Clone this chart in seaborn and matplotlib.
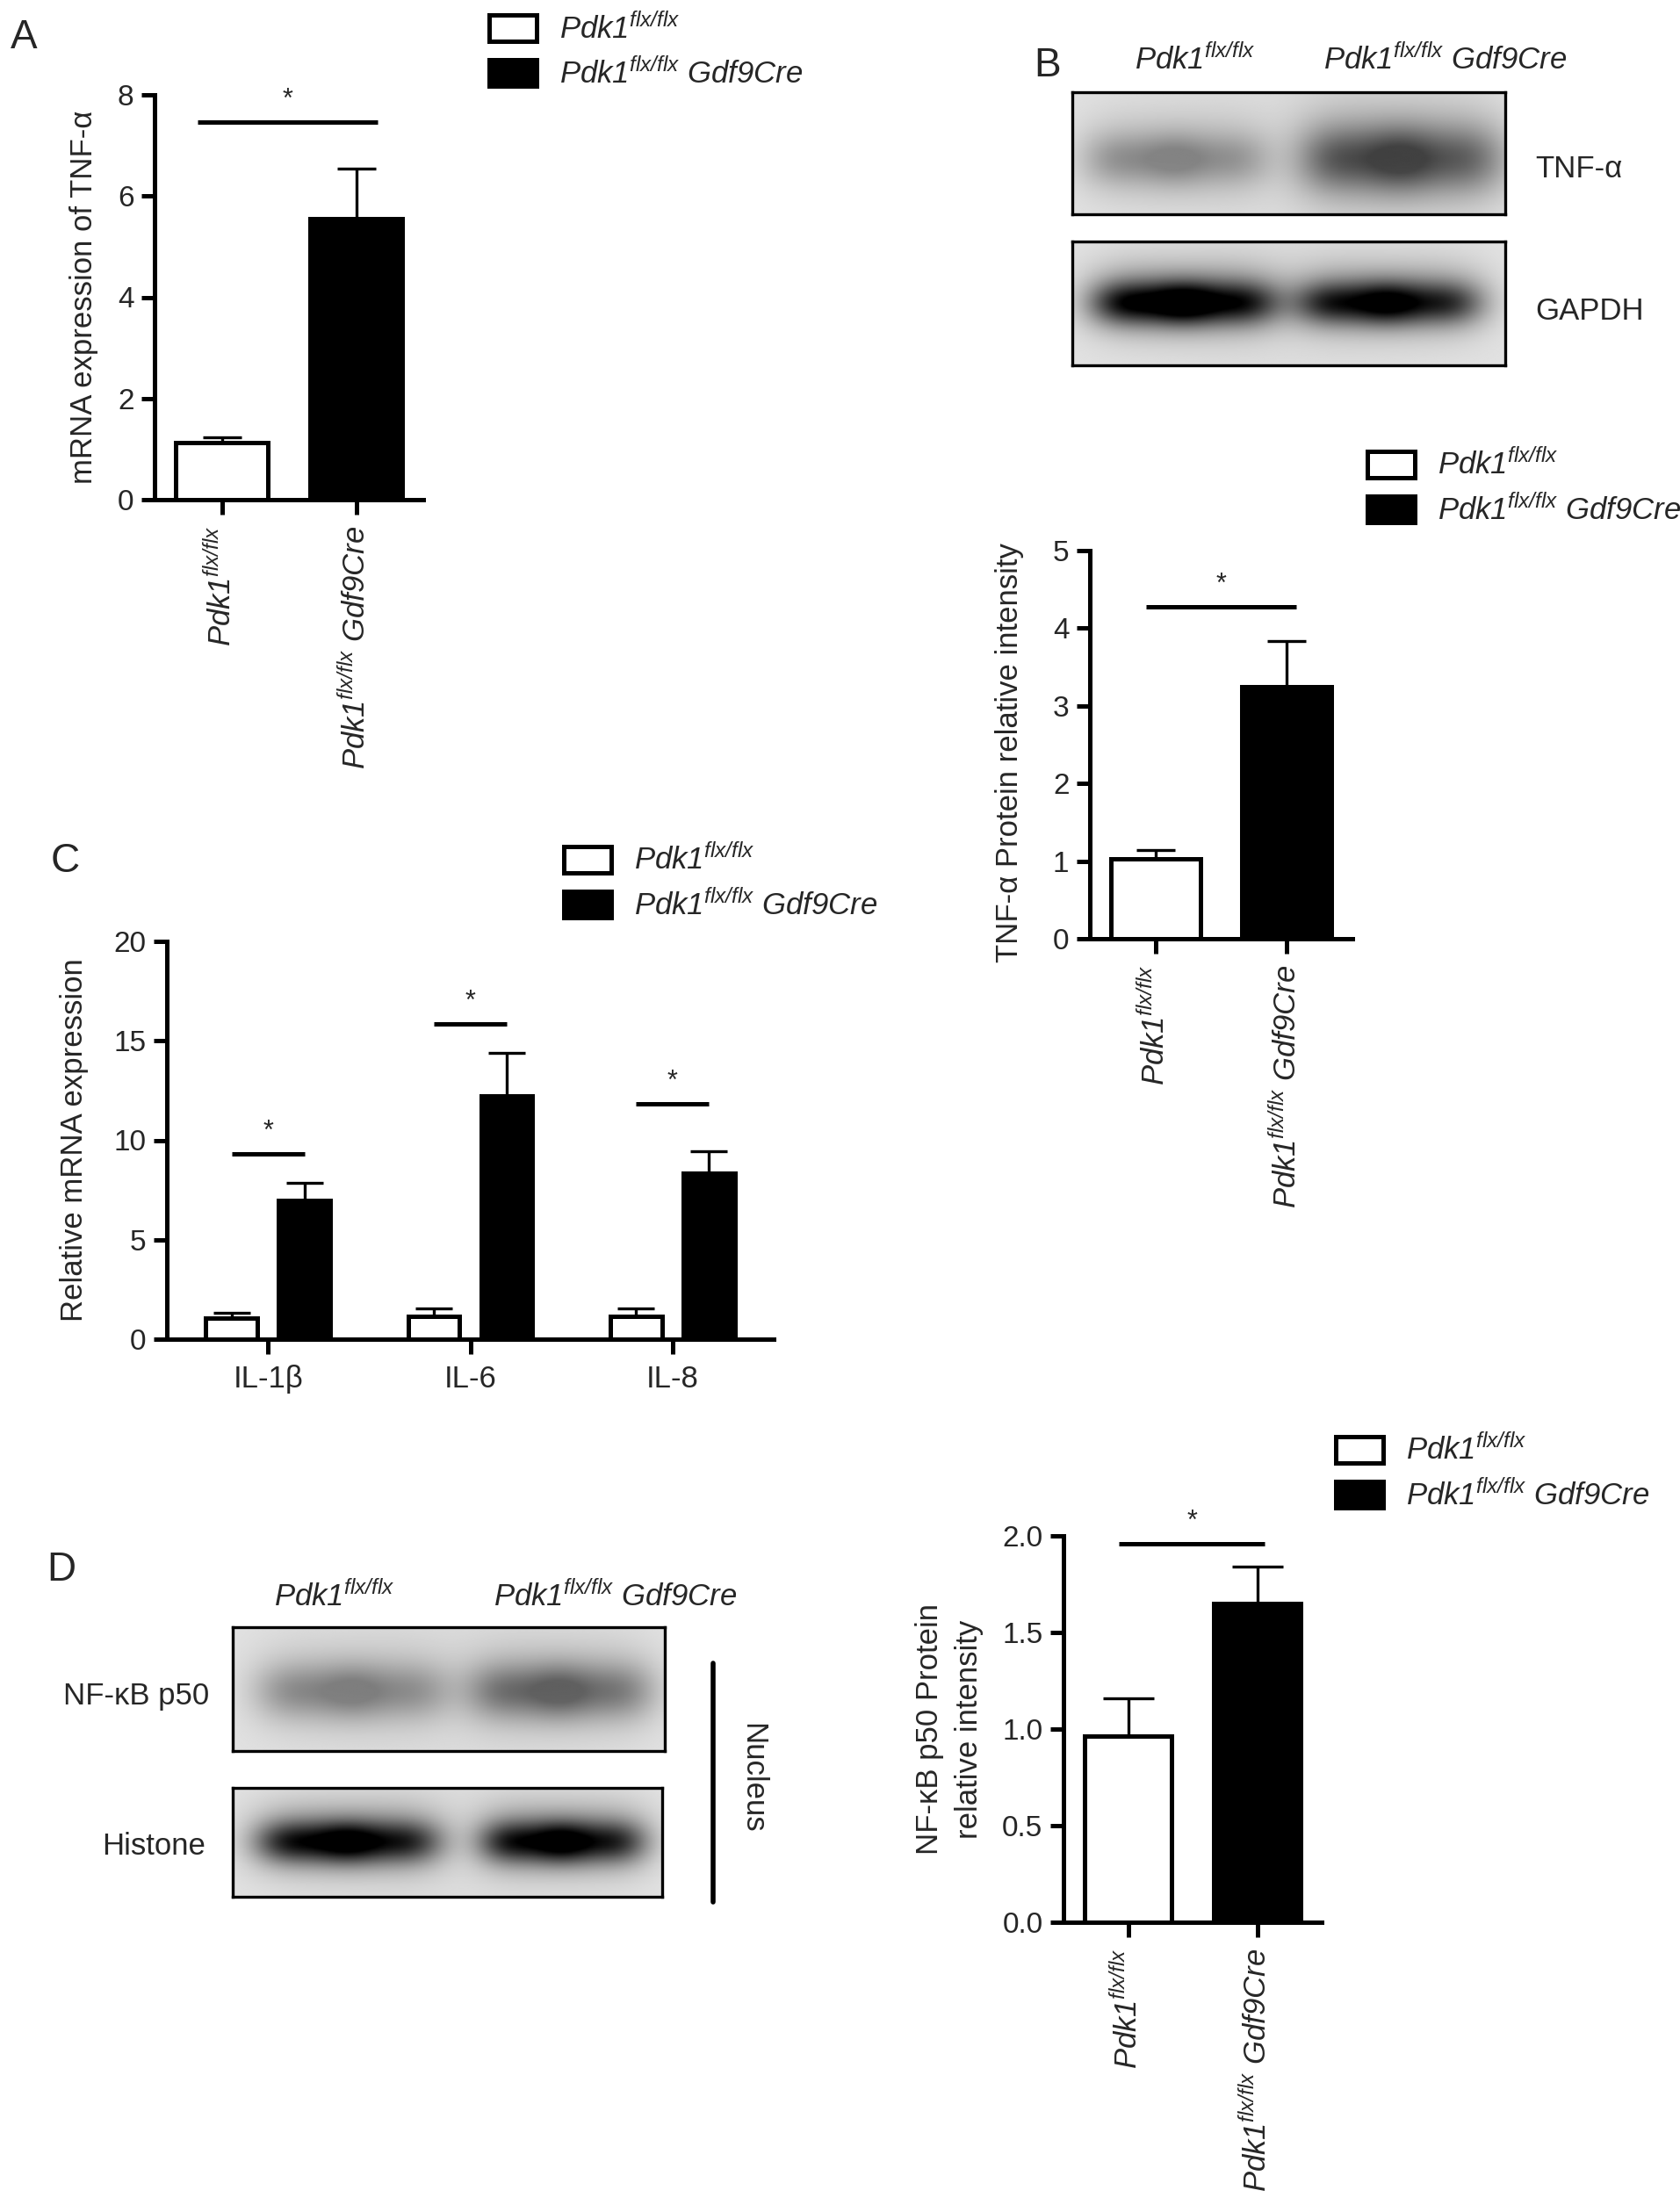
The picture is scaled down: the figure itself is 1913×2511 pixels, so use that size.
import numpy as np
import pandas as pd
import matplotlib
matplotlib.use("Agg")
import matplotlib.pyplot as plt
from matplotlib.patches import Patch
import seaborn as sns

W, H, DPI = 1913, 2511, 100

# ---------------- data ----------------
genotypes = ["ctrl", "ko"]
a_mean = [1.12, 5.56]
a_sem = [0.11, 0.98]
a_sig = 7.46

b_mean = [1.03, 3.25]
b_sem = [0.11, 0.58]
b_sig = 4.28

c_genes = ["IL-1β", "IL-6", "IL-8"]
c_ctrl = [1.07, 1.13, 1.13]
c_ctrl_sem = [0.26, 0.43, 0.43]
c_ko = [6.97, 12.25, 8.35]
c_ko_sem = [0.89, 2.15, 1.11]
c_sig = [9.31, 15.86, 11.84]

d_mean = [0.965, 1.65]
d_sem = [0.195, 0.19]
d_sig = 1.96

a_yticks = [0, 2, 4, 6, 8]
b_yticks = [0, 1, 2, 3, 4, 5]
c_yticks = [0, 5, 10, 15, 20]
d_yticks = [0.0, 0.5, 1.0, 1.5, 2.0]

# western blot band darkness per lane (0 = none, 1 = black)
blot_b_tnf = [0.36, 0.62]
blot_b_gapdh = [1.05, 0.92]
blot_d_p50 = [0.38, 0.50]
blot_d_histone = [0.95, 0.95]

LAB_CTRL = r"$\mathit{Pdk1}^{\mathit{flx/flx}}$"
LAB_KO = r"$\mathit{Pdk1}^{\mathit{flx/flx}}\ \mathit{Gdf9Cre}$"

# ---------------- style ----------------
sns.set_theme(style="ticks")
TXT = "#262626"
plt.rcParams.update({
    "font.family": ["Liberation Sans", "DejaVu Sans"],
    "mathtext.fontset": "custom",
    "mathtext.rm": "Liberation Sans:italic",
    "mathtext.it": "Liberation Sans:italic",
    "mathtext.bf": "Liberation Sans:bold",
    "mathtext.sf": "Liberation Sans:italic",
    "text.color": TXT,
    "axes.labelcolor": TXT,
})
FS = 25
LW = 3.6
ELW = 2.4
PAL = {"ctrl": "white", "ko": "black"}

fig = plt.figure(figsize=(W / DPI, H / DPI), dpi=DPI, facecolor="white")


def px_axes(x0, y0, x1, y1):
    return fig.add_axes([x0 / W, 1 - y1 / H, (x1 - x0) / W, (y1 - y0) / H])


def style_axes(ax, yticks, ylim, xlim):
    ax.set_ylim(*ylim)
    ax.set_xlim(*xlim)
    ax.set_yticks(yticks)
    for s in ["top", "right"]:
        ax.spines[s].set_visible(False)
    for s in ["left", "bottom"]:
        ax.spines[s].set_linewidth(LW)
        ax.spines[s].set_color("black")
    ax.tick_params(axis="y", length=11, width=LW, pad=6, labelsize=24,
                   colors="black", labelcolor=TXT)
    ax.tick_params(axis="x", length=12, width=LW, pad=9, labelsize=FS,
                   colors="black", labelcolor=TXT)
    ax.set_xlabel("")


def sig_bar(ax, x0, x1, y, star_off):
    ax.plot([x0, x1], [y, y], color="black", lw=LW, solid_capstyle="butt")
    ax.annotate("*", xy=((x0 + x1) / 2, y), xytext=(0, star_off),
                textcoords="offset points", ha="center", va="center",
                fontsize=22, color=TXT)


def two_bar(ax, means, sems, sig, sig_x, yticks, ylim, width, cap, ylabel,
            label_x, label_y=0.5, star_off=18):
    df = pd.DataFrame({"genotype": genotypes, "value": means})
    sns.barplot(data=df, x="genotype", y="value", hue="genotype",
                order=genotypes, hue_order=genotypes, palette=PAL,
                width=width, edgecolor="black", linewidth=LW, saturation=1,
                errorbar=None, legend=False, ax=ax)
    ax.errorbar(np.arange(len(means)), means,
                yerr=[np.zeros(len(means)), sems], fmt="none",
                ecolor="black", elinewidth=ELW, capsize=cap, capthick=ELW,
                zorder=1)
    style_axes(ax, yticks, ylim, (-0.5, 1.5))
    ax.set_xticks([0, 1], [LAB_CTRL, LAB_KO], rotation=90)
    sig_bar(ax, sig_x[0], sig_x[1], sig, star_off)
    ax.set_ylabel(ylabel, fontsize=FS, va="center", linespacing=1.45)
    ax.yaxis.set_label_coords(label_x, label_y)


def legend_at(x, y):
    handles = [Patch(facecolor="white", edgecolor="black", lw=LW),
               Patch(facecolor="black", edgecolor="black", lw=LW)]
    fig.legend(handles, [LAB_CTRL, LAB_KO], loc="upper left",
               bbox_to_anchor=(x / W, 1 - y / H), frameon=False, fontsize=FS,
               handlelength=1.55, handleheight=0.95, handletextpad=0.75,
               labelspacing=0.45, borderpad=0, borderaxespad=0)


def blot(ax, dark, lane_x, half_w, half_h, cy=0.53, bg=0.90, lobes=(1.0, 0.9)):
    h, w = 140, 490
    yy = np.linspace(0, 1, h)[:, None]
    xx = np.linspace(0, 1, w)[None, :]
    img = np.full((h, w), bg)
    img = img - 0.03 * np.exp(-((xx - 0.5) / 0.6) ** 2)
    for d, cx, hw, hh in zip(dark, lane_x, half_w, half_h):
        halo = np.exp(-np.abs((xx - cx) / (hw * 1.12)) ** 4) * \
            np.exp(-((yy - cy + 0.04) / (hh * 1.7)) ** 2)
        core = np.zeros_like(img)
        for k, f in zip((-0.45, 0.45), lobes):
            core = core + f * np.exp(-np.abs((xx - cx - k * hw) / (hw * 0.62)) ** 3) * \
                np.exp(-((yy - cy) / hh) ** 2)
        img = img - d * (0.62 * np.clip(core, 0, 1.1) + 0.32 * halo)
    ax.imshow(np.clip(img, 0, 1), cmap="gray", vmin=0, vmax=1,
              aspect="auto", interpolation="bilinear")
    ax.set_xticks([])
    ax.set_yticks([])
    for s in ax.spines.values():
        s.set_linewidth(2.4)
        s.set_color("black")
        s.set_visible(True)


def letter(x, y, s):
    fig.text(x / W, 1 - y / H, s, fontsize=33, ha="left", va="center",
             color=TXT)


# ---------------- Panel A ----------------
letter(12, 43, "A")
axA = px_axes(176, 108, 482, 569)
two_bar(axA, a_mean, a_sem, a_sig, (-0.18, 1.16), a_yticks, (0, 8), 0.69,
        16, "mRNA expression of TNF-α", -0.262)
legend_at(557, 15)

# ---------------- Panel B ----------------
letter(1177, 75, "B")
axB1 = px_axes(1221, 105, 1714, 244)
blot(axB1, blot_b_tnf, [0.24, 0.76], [0.20, 0.22], [0.22, 0.27], cy=0.55)
axB2 = px_axes(1221, 275, 1714, 416)
blot(axB2, blot_b_gapdh, [0.26, 0.73], [0.20, 0.20], [0.17, 0.17], cy=0.50)
fig.text(1361 / W, 1 - 68 / H, LAB_CTRL, fontsize=FS, ha="center", va="center")
fig.text(1646 / W, 1 - 68 / H, LAB_KO, fontsize=FS, ha="center", va="center")
fig.text(1748 / W, 1 - 192 / H, "TNF-α", fontsize=FS, ha="left", va="center")
fig.text(1748 / W, 1 - 355 / H, "GAPDH", fontsize=FS, ha="left", va="center")

axB = px_axes(1241, 627, 1540, 1069)
two_bar(axB, b_mean, b_sem, b_sig, (-0.07, 1.07), b_yticks, (0, 5), 0.685,
        16, "TNF-α Protein relative intensity", -0.305, 0.48)
legend_at(1557, 512)

# ---------------- Panel C ----------------
letter(58, 981, "C")
axC = px_axes(190, 1072, 881, 1525)
dfC = pd.DataFrame({
    "gene": c_genes * 2,
    "genotype": ["ctrl"] * len(c_genes) + ["ko"] * len(c_genes),
    "value": c_ctrl + c_ko,
})
C_WIDTH, C_GAP = 0.72, 0.29
sns.barplot(data=dfC, x="gene", y="value", hue="genotype", order=c_genes,
            hue_order=genotypes, palette=PAL, width=C_WIDTH, gap=C_GAP,
            edgecolor="black", linewidth=LW, saturation=1, errorbar=None,
            legend=False, ax=axC)
off = C_WIDTH / 4
xc = np.arange(len(c_genes))
axC.errorbar(xc - off, c_ctrl, yerr=[np.zeros(3), c_ctrl_sem], fmt="none",
             ecolor="black", elinewidth=ELW, capsize=15, capthick=ELW, zorder=1)
axC.errorbar(xc + off, c_ko, yerr=[np.zeros(3), c_ko_sem], fmt="none",
             ecolor="black", elinewidth=ELW, capsize=15, capthick=ELW, zorder=1)
style_axes(axC, c_yticks, (0, 20), (-0.5, 2.5))
axC.tick_params(axis="x", labelsize=FS, pad=9)
for i, s in enumerate(c_sig):
    sig_bar(axC, i - off, i + off, s, 18)
axC.set_ylabel("Relative mRNA expression", fontsize=FS, va="center")
axC.yaxis.set_label_coords(-0.152, 0.5)
legend_at(642, 962)

# ---------------- Panel D ----------------
letter(53, 1788, "D")
axD1 = px_axes(265, 1853, 757, 1994)
blot(axD1, blot_d_p50, [0.28, 0.76], [0.21, 0.20], [0.22, 0.22], cy=0.52)
axD2 = px_axes(265, 2036, 754, 2160)
blot(axD2, blot_d_histone, [0.27, 0.77], [0.20, 0.18], [0.19, 0.19], cy=0.50)
fig.text(381 / W, 1 - 1818 / H, LAB_CTRL, fontsize=FS, ha="center", va="center")
fig.text(701 / W, 1 - 1818 / H, LAB_KO, fontsize=FS, ha="center", va="center")
fig.text(238 / W, 1 - 1932 / H, "NF-κB p50", fontsize=FS, ha="right", va="center")
fig.text(234 / W, 1 - 2102 / H, "Histone", fontsize=FS, ha="right", va="center")
fig.add_artist(plt.Line2D([812 / W, 812 / W], [1 - 1894 / H, 1 - 2166 / H],
                          transform=fig.transFigure, color="black", lw=4))
fig.text(857 / W, 1 - 2025 / H, "Nucleus", fontsize=FS, rotation=-90,
         ha="center", va="center")

axD = px_axes(1211, 1749, 1505, 2189)
two_bar(axD, d_mean, d_sem, d_sig, (-0.07, 1.06), d_yticks, (0, 2), 0.676,
        21, "NF-κB p50 Protein\nrelative intensity", -0.442)
axD.set_yticklabels([f"{v:.1f}" for v in d_yticks])
legend_at(1521, 1634)

fig.savefig("out.png", dpi=DPI, facecolor="white")
